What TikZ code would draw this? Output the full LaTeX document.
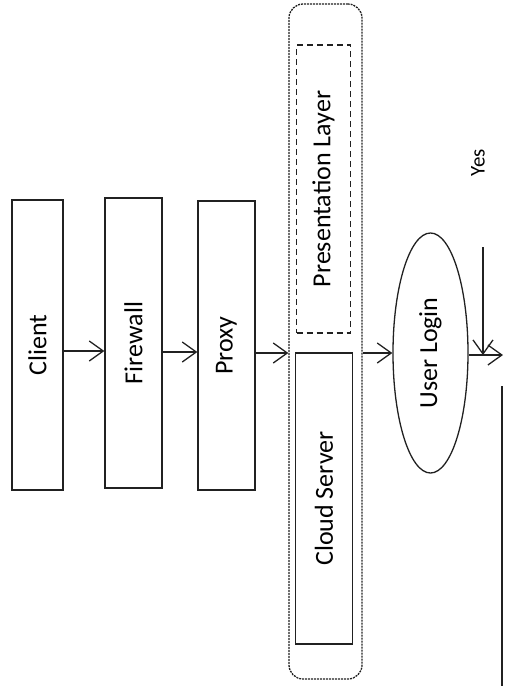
\documentclass[tikz,border=0pt]{standalone}
\usepackage{fontspec}
\setmainfont{Carlito}
\usepackage{xcolor}
\usepackage{graphicx}
\usepackage{tikz}
\usetikzlibrary{shapes}
\usetikzlibrary{arrows.meta}
\definecolor{ink}{rgb}{0.13,0.13,0.13}

\begin{document}
\begin{tikzpicture}[
	x=1pt, y=-1pt,
	line width=1.3pt,
	font=\fontsize{26}{28}\selectfont,
	box/.style={rectangle,draw=ink,inner sep=0pt},
	arr/.style={draw=ink,-{Straight Barb[length=14pt,width=20pt]}}]
  \useasboundingbox (0,0) rectangle (505,686);
  % left column of boxes
  \node[box,minimum width=51,minimum height=290] (client) at (37.5,345) {\rotatebox{90}{Client}};
  \node[box,minimum width=57,minimum height=290] (firewall) at (133.5,343) {\rotatebox{90}{Firewall}};
  \node[box,minimum width=57,minimum height=289] (proxy) at (226.5,345.5) {\rotatebox{90}{Proxy}};
  % cloud server group
  \node[box,dash pattern=on 2pt off 1pt,rounded corners=14pt,
    minimum width=73,minimum height=675] (group) at (325.5,341.5) {};
  \node[box,dash pattern=on 6pt off 4pt,minimum width=54,minimum height=288]
    (present) at (323.5,189) {\rotatebox{90}{Presentation Layer}};
  \node[box,minimum width=57,minimum height=291] (server) at (324,498.5) {\rotatebox{90}{Cloud Server}};
  % login
  \node[ellipse,draw=ink,inner sep=0pt,minimum width=75,minimum height=240] (login) at (430.5,353) {\rotatebox{90}{User Login}};
  \node[font=\fontsize{21}{23}\selectfont] (yes) at (478,163) {\rotatebox{90}{Yes}};
  \coordinate (yestop) at (483,247);
  \coordinate (exit) at (503,355);
  \coordinate (down) at (502,386);
  \coordinate (bottom) at (502,686);

  \draw[arr] (client.east |- 0,351) -- (firewall.west |- 0,351);
  \draw[arr] (firewall.east |- 0,352) -- (proxy.west |- 0,352);
  \draw[arr] (proxy.east |- 0,353) -- (group.west |- 0,353);
  \draw[arr] (group.east |- login.west) -- (login.west);
  \draw[arr] (yestop) -- (yestop |- exit);
  \draw[arr] (login.east |- exit) -- (exit);
  \draw[ink] (down) -- (bottom);
\end{tikzpicture}
\end{document}
